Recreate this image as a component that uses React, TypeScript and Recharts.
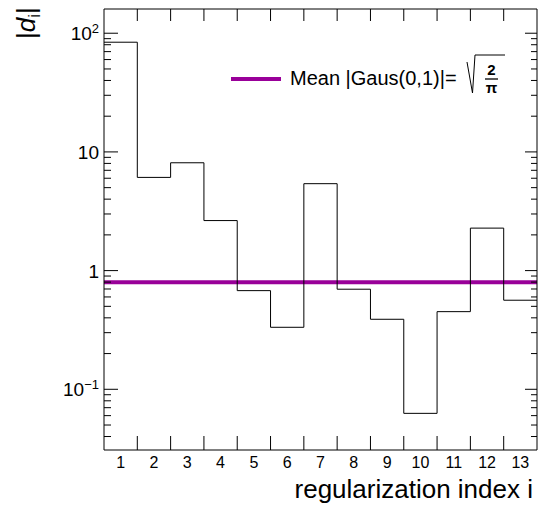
import React from 'react';
import { ComposedChart, Line, XAxis, YAxis, ReferenceLine, Legend } from 'recharts';

// ---- data ----
const binIndex = [1, 2, 3, 4, 5, 6, 7, 8, 9, 10, 11, 12, 13];
const binValues = [84, 6.1, 8.1, 2.64, 0.678, 0.333, 5.4, 0.697, 0.389, 0.0627, 0.451, 2.28, 0.563];
const binEdgeTicks = [1.5, 2.5, 3.5, 4.5, 5.5, 6.5, 7.5, 8.5, 9.5, 10.5, 11.5, 12.5];
const yMajorTicks = [0.1, 1, 10, 100];
const yMajorBase = ['10', '1', '10', '10'];
const yMajorExp = ['\u22121', '', '', '2'];
const yMinorTicks = [
  0.04, 0.05, 0.06, 0.07, 0.08, 0.09,
  0.2, 0.3, 0.4, 0.5, 0.6, 0.7, 0.8, 0.9,
  2, 3, 4, 5, 6, 7, 8, 9,
  20, 30, 40, 50, 60, 70, 80, 90,
];
const meanAbsGaus = 0.7979;
const legendLabel = 'Mean |Gaus(0,1)|=';
const xTitle = 'regularization index i';

const X_DOMAIN: [number, number] = [0.5, 13.5];
const Y_DOMAIN: [number, number] = [0.0308, 160];
const PURPLE = '#990099';
const FONT = '"Liberation Sans", Arial, Helvetica, sans-serif';

const data = binIndex
  .map((b, i) => ({ x: b - 0.5, d: binValues[i] }))
  .concat([{ x: binIndex[binIndex.length - 1] + 0.5, d: binValues[binValues.length - 1] }]);

const allXTicks = [...binIndex, ...binEdgeTicks].sort((a, b) => a - b);
const allYTicks = [...yMajorTicks, ...yMinorTicks].sort((a, b) => a - b);

const BottomTick = (props: any) => {
  const { x, y, payload } = props;
  const v = payload.value;
  if (Number.isInteger(v)) {
    return (
      <text x={x} y={y + 18} textAnchor="middle" fontSize={16} fill="#000" fontFamily={FONT}>
        {v}
      </text>
    );
  }
  return <line x1={x} x2={x} y1={y} y2={y - 14} stroke="#000" />;
};

const TopTick = (props: any) => {
  const { x, y } = props;
  return <line x1={x} x2={x} y1={y} y2={y + 12} stroke="#000" />;
};

const LeftTick = (props: any) => {
  const { x, y, payload } = props;
  const v = payload.value;
  const i = yMajorTicks.indexOf(v);
  const major = i >= 0;
  return (
    <g>
      <line x1={x} x2={x + (major ? 14 : 7)} y1={y} y2={y} stroke="#000" />
      {major && (
        <text x={x - 5} y={y + 7} textAnchor="end" fontSize={19} fill="#000" fontFamily={FONT}>
          {yMajorBase[i]}
          {yMajorExp[i] && (
            <tspan dy={-7} fontSize={13}>
              {yMajorExp[i]}
            </tspan>
          )}
        </text>
      )}
    </g>
  );
};

const RightTick = (props: any) => {
  const { x, y, payload } = props;
  const major = yMajorTicks.indexOf(payload.value) >= 0;
  return <line x1={x} x2={x - (major ? 12 : 6)} y1={y} y2={y} stroke="#000" />;
};

const renderXTitle = (p: any) => {
  const vb = p.viewBox;
  return (
    <text x={vb.x + vb.width - 4} y={vb.y + 48} textAnchor="end" fontSize={26} fill="#000" fontFamily={FONT}>
      {xTitle}
    </text>
  );
};

const renderYTitle = (p: any) => {
  const vb = p.viewBox;
  return (
    <text
      transform={`translate(${vb.x + 35},${vb.y + 30}) rotate(-90)`}
      fontSize={26}
      fill="#000"
      fontFamily={FONT}
    >
      |<tspan fontStyle="italic">d</tspan>
      <tspan fontSize={17} dy={5}>i</tspan>
      <tspan dy={-5}>|</tspan>
    </text>
  );
};

const renderLegend = () => (
  <svg width={300} height={50} style={{ overflow: 'visible', display: 'block' }}>
    <line x1={6} x2={56} y1={29} y2={29} stroke={PURPLE} strokeWidth={4} />
    <text x={65} y={35} fontSize={20} fill="#000" fontFamily={FONT}>
      {legendLabel}
    </text>
    <path d="M 242 12 L 247.5 43 L 250 5 L 280 5" fill="none" stroke="#000" strokeWidth={1} />
    <text x={266.5} y={25} textAnchor="middle" fontSize={15} fontWeight="bold" fill="#000" fontFamily={FONT}>
      2
    </text>
    <line x1={260} x2={273} y1={29} y2={29} stroke="#000" strokeWidth={1.3} />
    <text x={266.5} y={43} textAnchor="middle" fontSize={15} fontWeight="bold" fill="#000" fontFamily={FONT}>
      {'\u03c0'}
    </text>
  </svg>
);

export default function App() {
  return (
    <div style={{ position: 'absolute', left: 0, top: 0 }}>
      <ComposedChart
        width={540}
        height={509}
        data={data}
        margin={{ top: 0, right: 0, bottom: 0, left: 0 }}
        style={{ fontFamily: FONT, background: '#fff' }}
      >
        <XAxis
          xAxisId="bottom"
          dataKey="x"
          type="number"
          domain={X_DOMAIN}
          allowDataOverflow
          ticks={allXTicks}
          interval={0}
          tickSize={0}
          tickMargin={0}
          tickLine={false}
          tick={<BottomTick />}
          axisLine={{ stroke: '#000' }}
          height={59}
          label={renderXTitle}
        />
        <XAxis
          xAxisId="top"
          orientation="top"
          dataKey="x"
          type="number"
          domain={X_DOMAIN}
          allowDataOverflow
          ticks={binEdgeTicks}
          interval={0}
          tickSize={0}
          tickMargin={0}
          tickLine={false}
          tick={<TopTick />}
          axisLine={{ stroke: '#000' }}
          height={9}
        />
        <YAxis
          yAxisId="left"
          scale="log"
          type="number"
          domain={Y_DOMAIN}
          allowDataOverflow
          ticks={allYTicks}
          interval={0}
          tickSize={0}
          tickMargin={0}
          tickLine={false}
          tick={<LeftTick />}
          axisLine={{ stroke: '#000' }}
          width={104}
          label={renderYTitle}
        />
        <YAxis
          yAxisId="right"
          orientation="right"
          scale="log"
          type="number"
          domain={Y_DOMAIN}
          allowDataOverflow
          ticks={allYTicks}
          interval={0}
          tickSize={0}
          tickMargin={0}
          tickLine={false}
          tick={<RightTick />}
          axisLine={{ stroke: '#000' }}
          width={3}
        />
        <ReferenceLine
          xAxisId="bottom"
          yAxisId="left"
          y={meanAbsGaus}
          stroke={PURPLE}
          strokeWidth={4}
        />
        <Line
          xAxisId="bottom"
          yAxisId="left"
          dataKey="d"
          type="stepAfter"
          stroke="#000"
          strokeWidth={1}
          dot={false}
          activeDot={false}
          isAnimationActive={false}
        />
        <Legend
          layout="horizontal"
          verticalAlign="middle"
          align="center"
          wrapperStyle={{ left: 225, top: 50, width: 300, height: 50 }}
          content={renderLegend}
        />
      </ComposedChart>
    </div>
  );
}
